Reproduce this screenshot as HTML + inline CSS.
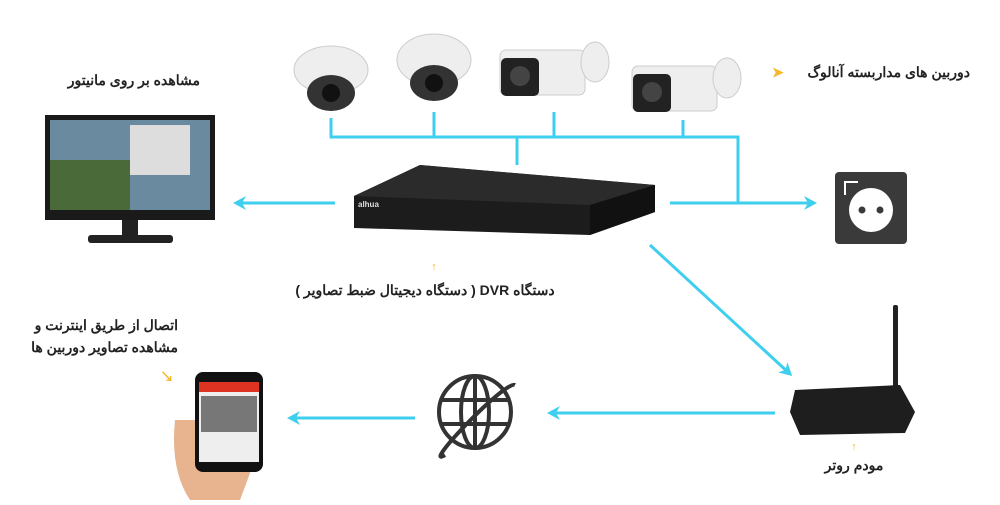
<!DOCTYPE html>
<html><head><meta charset="utf-8"><style>
body{margin:0;width:1000px;height:500px;background:#fff;overflow:hidden}
svg text{font-family:"Liberation Sans","Noto Sans CJK SC",sans-serif;fill:#222;font-size:14px;font-weight:bold}
</style></head><body>
<svg width="1000" height="500" viewBox="0 0 1000 500" xmlns="http://www.w3.org/2000/svg">
<defs><marker id="a" markerWidth="14" markerHeight="14" refX="10" refY="7" orient="auto" markerUnits="userSpaceOnUse"><path d="M0,0 L13,7 L0,14 L4,7z" fill="#3fcfee"/></marker></defs>
<g stroke="#3fcfee" stroke-width="3" fill="none">
<path d="M331,118V137H738V203M434,112V137M554,112V137M683,120V137M517,137V165"/>
<path d="M670,203H814" marker-end="url(#a)"/>
<path d="M335,203H236" marker-end="url(#a)"/>
<path d="M650,245L790,374" marker-end="url(#a)"/>
<path d="M775,413H550" marker-end="url(#a)"/>
<path d="M415,418H290" marker-end="url(#a)"/>
</g>
<!-- cameras -->
<ellipse cx="331" cy="70" rx="37" ry="24" fill="#eee" stroke="#ccc"/><ellipse cx="331" cy="93" rx="24" ry="18" fill="#333"/><circle cx="331" cy="93" r="9" fill="#111"/>
<ellipse cx="434" cy="60" rx="37" ry="26" fill="#eee" stroke="#ccc"/><ellipse cx="434" cy="83" rx="24" ry="18" fill="#333"/><circle cx="434" cy="83" r="9" fill="#111"/>
<rect x="500" y="50" width="85" height="45" rx="6" fill="#eee" stroke="#ccc"/><rect x="501" y="58" width="38" height="38" rx="5" fill="#222"/><circle cx="520" cy="76" r="10" fill="#444"/><ellipse cx="595" cy="62" rx="14" ry="20" fill="#eee" stroke="#ccc"/>
<rect x="632" y="66" width="85" height="45" rx="6" fill="#eee" stroke="#ccc"/><rect x="633" y="74" width="38" height="38" rx="5" fill="#222"/><circle cx="652" cy="92" r="10" fill="#444"/><ellipse cx="727" cy="78" rx="14" ry="20" fill="#eee" stroke="#ccc"/>
<!-- DVR -->
<polygon points="354,196 420,165 655,185 655,212 590,235 354,228" fill="#1c1c1c"/>
<polygon points="354,196 420,165 655,185 590,205" fill="#2b2b2b"/>
<polygon points="590,205 655,185 655,212 590,235" fill="#111"/>
<text x="358" y="207" style="fill:#ddd;font-size:8px">alhua</text>
<!-- monitor -->
<rect x="45" y="115" width="170" height="105" fill="#1a1a1a"/><rect x="50" y="120" width="160" height="90" fill="#6a8aa0"/>
<rect x="50" y="160" width="80" height="50" fill="#4a6a3a"/><rect x="130" y="125" width="60" height="50" fill="#ddd"/>
<rect x="122" y="220" width="16" height="15" fill="#222"/><rect x="88" y="235" width="85" height="8" rx="3" fill="#222"/>
<!-- socket -->
<rect x="835" y="172" width="72" height="72" rx="4" fill="#3a3a3a"/><circle cx="871" cy="210" r="22" fill="#fff"/><circle cx="862" cy="210" r="3.5" fill="#3a3a3a"/><circle cx="880" cy="210" r="3.5" fill="#3a3a3a"/>
<path d="M845,195V182H858" stroke="#fff" stroke-width="2" fill="none"/>
<!-- router -->
<rect x="893" y="305" width="5" height="88" rx="2" fill="#222"/>
<polygon points="795,390 900,385 915,412 905,433 800,435 790,412" fill="#1e1e1e"/>
<!-- globe -->
<g stroke="#333" stroke-width="4" fill="none"><circle cx="475" cy="412" r="36"/><ellipse cx="475" cy="412" rx="14" ry="36"/><path d="M441,400H509M441,424H509M475,376V448"/><path d="M445,455 C420,470 505,380 515,385"/></g>
<!-- phone -->
<path d="M175,420 Q170,470 190,500 H240 Q255,460 262,440 V420 Z" fill="#e7b48f"/>
<rect x="195" y="372" width="68" height="100" rx="8" fill="#111"/><rect x="199" y="382" width="60" height="80" fill="#eee"/><rect x="199" y="382" width="60" height="10" fill="#d32"/><rect x="201" y="396" width="56" height="36" fill="#777"/>
<!-- labels -->
<text x="200" y="85" text-anchor="end" font-size="15">مشاهده بر روی مانیتور</text>
<text x="970" y="77" text-anchor="end" font-size="15">دوربین های مداربسته آنالوگ</text>
<text x="772" y="77" style="fill:#f5b82e;font-size:14px">➤</text>
<text x="434" y="270" text-anchor="middle" style="fill:#f5b82e;font-size:11px">↑</text>
<text x="425" y="295" text-anchor="middle" font-size="15" direction="rtl">دستگاه DVR ( دستگاه دیجیتال ضبط تصاویر )</text>
<text x="178" y="330" text-anchor="start" font-size="15" direction="rtl">اتصال از طریق اینترنت و</text>
<text x="178" y="352" text-anchor="start" font-size="15" direction="rtl">مشاهده تصاویر دوربین ها</text>
<text x="160" y="382" style="fill:#f5b82e;font-size:14px">↘</text>
<text x="854" y="450" text-anchor="middle" style="fill:#f5b82e;font-size:11px">↑</text>
<text x="854" y="470" text-anchor="middle" font-size="15">مودم روتر</text>
</svg>
</body></html>
